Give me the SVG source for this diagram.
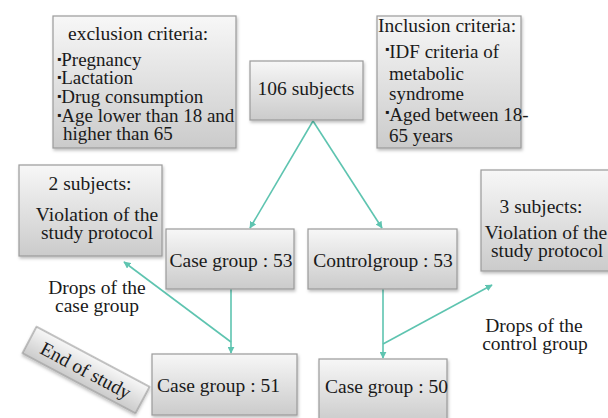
<svg xmlns="http://www.w3.org/2000/svg" width="608" height="418" viewBox="0 0 608 418">
<defs>
<linearGradient id="g" x1="0" y1="0" x2="0" y2="1">
<stop offset="0" stop-color="#f7f7f7"/>
<stop offset="1" stop-color="#cbcbcb"/>
</linearGradient>
<filter id="sh" x="-10%" y="-10%" width="125%" height="130%">
<feDropShadow dx="1" dy="2" stdDeviation="1.5" flood-color="#000" flood-opacity="0.25"/>
</filter>
<marker id="ah" viewBox="0 0 10 10" refX="9" refY="5" markerWidth="7" markerHeight="7" orient="auto-start-reverse" markerUnits="userSpaceOnUse">
<path d="M0,0 L10,5 L0,10 z" fill="#5ec4b0"/>
</marker>
</defs>
<style>
.box{fill:url(#g);stroke:#9a9a9a;stroke-width:1.2;filter:url(#sh)}
text{font-family:"Liberation Serif","Times New Roman",serif;font-size:19.5px;fill:#1a1a1a}
.c{text-anchor:middle}
.s{font-size:19px}
.b{font-size:12px}
.ln{stroke:#5ec4b0;stroke-width:1.6;fill:none}
</style>
<rect width="608" height="418" fill="#fff"/>

<g id="connectors">
<line class="ln" x1="313" y1="121" x2="250" y2="228" marker-end="url(#ah)"/>
<line class="ln" x1="313" y1="121" x2="382" y2="228" marker-end="url(#ah)"/>
<line class="ln" x1="231" y1="289" x2="231" y2="353" marker-end="url(#ah)"/>
<line class="ln" x1="231" y1="342" x2="124" y2="262" marker-end="url(#ah)"/>
<line class="ln" x1="383" y1="289" x2="383" y2="358" marker-end="url(#ah)"/>
<line class="ln" x1="383" y1="344" x2="492" y2="285" marker-end="url(#ah)"/>
</g>

<g id="exclusion">
<rect class="box" x="53" y="16" width="183" height="132"/>
<text x="68" y="40" font-size="20.5">exclusion criteria:</text>
<text class="s" x="57" y="66"><tspan class="b" dy="-3">▪</tspan><tspan dy="3">Pregnancy</tspan></text>
<text class="s" x="57" y="84"><tspan class="b" dy="-3">▪</tspan><tspan dy="3">Lactation</tspan></text>
<text class="s" x="57" y="103"><tspan class="b" dy="-3">▪</tspan><tspan dy="3">Drug consumption</tspan></text>
<text class="s" x="57" y="122"><tspan class="b" dy="-3">▪</tspan><tspan dy="3">Age lower than 18 and</tspan></text>
<text class="s" x="63" y="140">higher than 65</text>
</g>

<g id="subjects106">
<rect class="box" x="250" y="61" width="113" height="59"/>
<text class="c" x="306" y="95">106 subjects</text>
</g>

<g id="inclusion">
<rect class="box" x="377" y="16" width="144" height="132"/>
<text x="378" y="32">Inclusion criteria:</text>
<text class="s" x="385" y="58"><tspan class="b" dy="-5">▪</tspan><tspan dy="5">IDF criteria of</tspan></text>
<text class="s" x="389" y="80">metabolic</text>
<text class="s" x="389" y="100">syndrome</text>
<text class="s" x="385" y="121"><tspan class="b" dy="-5">▪</tspan><tspan dy="5">Aged between 18-</tspan></text>
<text class="s" x="389" y="142">65 years</text>
</g>

<g id="drop2">
<rect class="box" x="19" y="165" width="143" height="91"/>
<text class="c" x="90" y="190">2 subjects:</text>
<text class="c" x="97" y="221">Violation of the</text>
<text class="c" x="97" y="239">study protocol</text>
</g>

<g id="case53">
<rect class="box" x="166" y="229" width="128" height="60"/>
<text class="c" x="231" y="267">Case group : 53</text>
</g>

<g id="control53">
<rect class="box" x="308" y="229" width="149" height="60"/>
<text class="c" x="383" y="267">Controlgroup : 53</text>
</g>

<g id="drop3">
<rect class="box" x="481" y="170" width="130" height="101"/>
<text class="c" x="541" y="213">3 subjects:</text>
<text class="c" x="546" y="239">Violation of the</text>
<text class="c" x="547" y="257">study protocol</text>
</g>

<g id="dropsCaseLabel">
<text class="c" x="97" y="294">Drops of the</text>
<text class="c" x="97" y="312">case group</text>
</g>

<g id="dropsControlLabel">
<text class="c" x="534" y="332">Drops of the</text>
<text class="c" x="535" y="350">control group</text>
</g>

<g id="endOfStudy" transform="rotate(28 86 370)">
<rect class="box" x="22" y="355" width="128" height="30"/>
<text class="c" x="86" y="377">End of study</text>
</g>

<g id="case51">
<rect class="box" x="152" y="354" width="145" height="61"/>
<text x="157" y="392">Case group : 51</text>
</g>

<g id="case50">
<rect class="box" x="319" y="359" width="128" height="64"/>
<text x="325" y="393">Case group : 50</text>
</g>
</svg>
